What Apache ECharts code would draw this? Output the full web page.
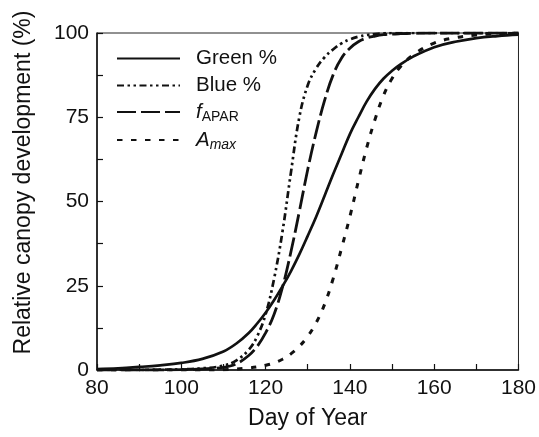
<!DOCTYPE html>
<html>
<head>
<meta charset="utf-8">
<script src="https://cdn.jsdelivr.net/npm/echarts@6/dist/echarts.min.js"></script>
<style>
  html, body { margin: 0; padding: 0; background: #fff; }
  #chart { width: 539px; height: 437px; }
</style>
</head>
<body>
<div id="chart"></div>
<script>
// day of year (x)
var days = [80, 85, 90, 95, 100, 105, 110, 113, 116, 118, 120, 122, 124, 126, 128, 130, 132, 134, 136, 138, 140, 142, 144, 146, 148, 150, 152, 155, 160, 165, 170, 175, 180]

// relative canopy development (%)
var greenPct = [0.3, 0.5, 0.9, 1.4, 2.1, 3.3, 5.5, 7.8, 11, 13.8, 17, 20.7, 24.8, 29.3, 34.3, 39.8, 45.5, 51.7, 58, 64, 70, 75, 79.7, 83.5, 86.5, 88.8, 90.7, 93, 95.8, 97.4, 98.5, 99.1, 99.5]
var bluePct = [0, 0, 0, 0.1, 0.2, 0.5, 1.3, 2.8, 6, 10, 16.5, 27, 41, 58.5, 75, 84.5, 89.5, 92.8, 95.1, 96.9, 98.1, 98.9, 99.4, 99.7, 99.9, 100, 100, 100, 100, 100, 100, 100, 100]
var fAPAR = [0, 0, 0, 0, 0.1, 0.3, 0.8, 1.8, 4.3, 7, 11, 16.5, 24.5, 35, 47, 59.5, 70.5, 80, 87.5, 92.5, 95.5, 97.4, 98.5, 99.1, 99.5, 99.7, 99.8, 99.9, 100, 100, 100, 100, 100]
var aMax = [0, 0, 0, 0, 0, 0, 0.1, 0.3, 0.6, 0.9, 1.4, 2.1, 3.2, 4.8, 7, 10, 14, 19.5, 27, 36, 45.5, 56, 66, 74.5, 81.5, 86.5, 90, 93.5, 97, 98.6, 99.4, 99.8, 100]

var xTicks = [80, 100, 120, 140, 160, 180]
var yTicks = [0, 25, 50, 75, 100]

var legendText = {
  'Green %': 'Green %',
  'Blue %': 'Blue %',
  'fAPAR': '{it|f}{sub|APAR}',
  'Amax': '{it|A}{subi|max}'
}

function pairs(vals) {
  return days.map(function (d, i) { return [d, vals[i]] })
}

var font = 'Liberation Sans, Arial, Helvetica, sans-serif'
var ink = '#111'

var chart = echarts.init(document.getElementById('chart'))

function lineSeries(name, vals, width, type) {
  return {
    name: name,
    type: 'line',
    data: pairs(vals),
    symbol: 'none',
    smooth: 0.4,
    lineStyle: { color: ink, width: width, type: type },
    itemStyle: { color: ink },
    z: 3
  }
}

var option = {
  animation: false,
  backgroundColor: '#fff',
  grid: {
    left: 97, right: 20, top: 33, bottom: 67,
    show: true, borderColor: '#222', borderWidth: 1
  },
  legend: {
    orient: 'vertical',
    left: 111,
    top: 43,
    itemWidth: 63,
    itemHeight: 14,
    itemGap: 6,
    itemStyle: { opacity: 0 },
    data: ['Green %', 'Blue %', 'fAPAR', 'Amax'],
    formatter: function (name) { return legendText[name] },
    textStyle: {
      fontFamily: font, fontSize: 20.5, color: ink, padding: [0, 0, 0, 11],
      rich: {
        it: { fontFamily: font, fontSize: 20.5, fontStyle: 'italic', color: ink },
        sub: { fontFamily: font, fontSize: 14, color: ink, padding: [10, 0, 0, 0] },
        subi: { fontFamily: font, fontSize: 14, fontStyle: 'italic', color: ink, padding: [10, 0, 0, 0] }
      }
    }
  },
  xAxis: {
    type: 'value',
    min: 80,
    max: 180,
    interval: 10,
    name: 'Day of Year',
    nameLocation: 'middle',
    nameGap: 37,
    nameTextStyle: { fontFamily: font, fontSize: 23, color: ink },
    axisLine: { lineStyle: { color: ink, width: 1.5 } },
    axisTick: { inside: true, length: 6, lineStyle: { color: ink, width: 1.2 } },
    axisLabel: {
      margin: 8, fontFamily: font, fontSize: 21, color: ink,
      formatter: function (v) { return xTicks.indexOf(v) >= 0 ? String(v) : '' }
    },
    splitLine: { show: false }
  },
  yAxis: {
    type: 'value',
    min: 0,
    max: 100,
    interval: 12.5,
    name: 'Relative canopy development (%)',
    nameLocation: 'middle',
    nameGap: 62,
    nameTextStyle: { fontFamily: font, fontSize: 23, color: ink, padding: [0, 0, 0, 38] },
    axisLine: { lineStyle: { color: ink, width: 1.5 } },
    axisTick: { inside: true, length: 6, lineStyle: { color: ink, width: 1.2 } },
    axisLabel: {
      margin: 8, fontFamily: font, fontSize: 21, color: ink,
      formatter: function (v) { return yTicks.indexOf(v) >= 0 ? String(v) : '' }
    },
    splitLine: { show: false }
  },
  series: [
    lineSeries('Green %', greenPct, 2.7, 'solid'),
    lineSeries('Blue %', bluePct, 2.7, [7, 3.5, 2.5, 3.5, 2.5, 3.5]),
    lineSeries('fAPAR', fAPAR, 2.8, [19, 5]),
    lineSeries('Amax', aMax, 3, [5.5, 8.5])
  ]
}

chart.setOption(option)
</script>
</body>
</html>
